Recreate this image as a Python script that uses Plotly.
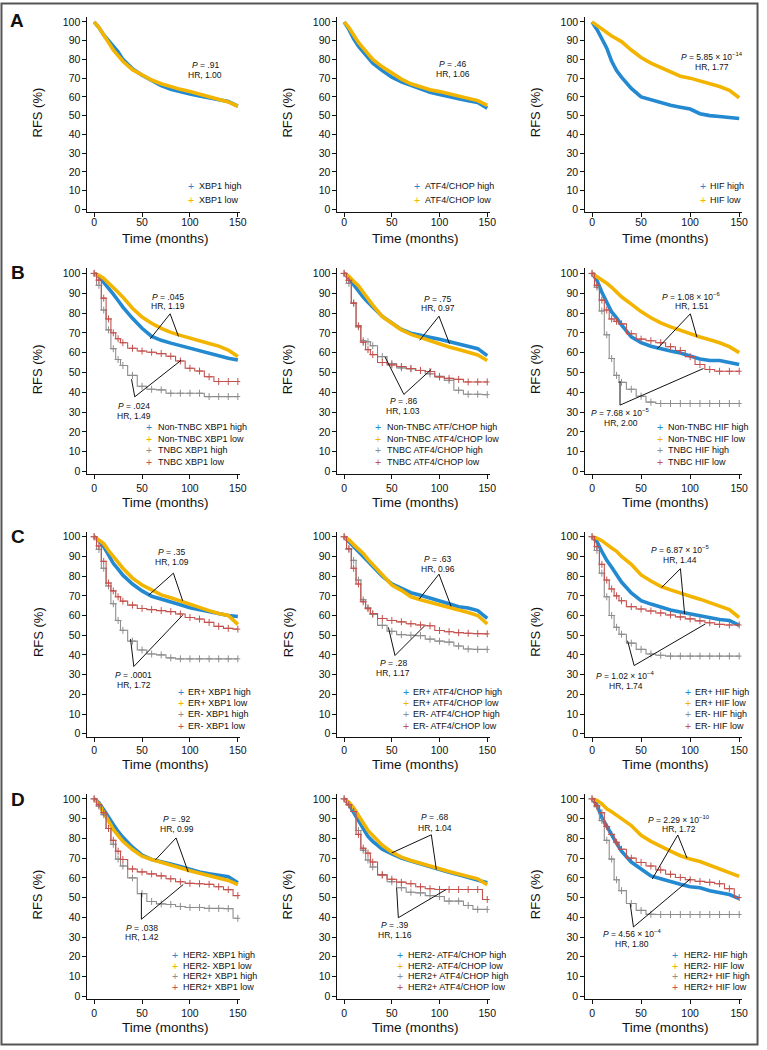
import plotly.graph_objects as go

W, H = 767, 1050

# ---------------- data (RFS %) ----------------
T = [0, 5, 10, 15, 20, 25, 30, 40, 50, 60, 70, 80, 90, 100, 110, 120, 130, 140, 150]
X_TICKS = [0, 50, 100, 150]
Y_TICKS = [0, 10, 20, 30, 40, 50, 60, 70, 80, 90, 100]

# Panel A
a1_xbp1_high = [100, 97, 93, 90, 87, 84, 80, 75, 71.5, 68.5, 66, 64, 62.5, 61.5, 60.5, 59.5, 58.5, 57.5, 55]
a1_xbp1_low = [100, 97, 93, 89, 85, 82, 79, 74.5, 71.5, 69, 67, 65.3, 64, 62.8, 61.5, 60, 58.8, 57.3, 55]
a2_atf4_high = [100, 96, 91, 87, 84, 81, 78, 74, 70.5, 68, 66, 64, 62.5, 61.3, 60, 59, 58, 57, 54]
a2_atf4_low = [100, 97, 93, 89, 86, 83, 80, 76, 72.5, 69.5, 67, 65.3, 63.8, 62.8, 61.7, 60.6, 59.5, 58, 55.5]
a3_hif_high = [100, 96, 91, 86, 79, 74, 70.5, 64.5, 60, 58.5, 57, 55.5, 54.5, 53.5, 51, 50, 49.5, 49, 48.5]
a3_hif_low = [100, 98, 96, 94, 92.5, 91, 89.5, 85, 81, 78, 75.5, 73, 71, 70, 68.5, 67, 65.5, 63.5, 59.5]

# Panel B (non-TNBC / TNBC)
b1_non_high = [100, 98.5, 95.5, 92.8, 89.5, 86.3, 83, 77.3, 72.3, 68.2, 66.2, 64.8, 63.5, 62.2, 60.8, 59.5, 58.3, 57.2, 56.3]
b1_non_low = [100, 99, 97.5, 95.3, 93, 90.5, 88, 82.4, 78, 74.8, 72.2, 70.2, 68.7, 67.2, 65.8, 64.6, 63.3, 61.3, 58]
b1_tnbc_high = [100, 94, 81.5, 71.5, 62, 56.5, 53.5, 48.5, 43, 41.5, 41.2, 39.5, 39.5, 39.5, 39.5, 37.8, 37.8, 37.8, 37.8]
b1_tnbc_low = [100, 96.6, 87.5, 77, 70, 67, 65, 62.2, 60.8, 60.2, 59.5, 58.2, 55.8, 52.1, 50.7, 47.8, 45.4, 45.4, 45.4]
b2_non_high = [100, 97.5, 94.3, 90.8, 88, 85.4, 83, 78.3, 75, 71.7, 69.8, 68.6, 67.7, 66.8, 65.5, 64.2, 63.2, 62, 58.5]
b2_non_low = [100, 98.5, 96, 93.8, 90.5, 87, 84, 78.2, 74.6, 71.5, 69.2, 67.5, 65.8, 64.2, 62.8, 61.6, 60.3, 58.8, 56]
b2_tnbc_high = [100, 95, 85, 73, 66, 65.5, 63.5, 58, 54.5, 52.3, 51.8, 51, 49.3, 48, 46, 41, 39, 39, 38.8]
b2_tnbc_low = [100, 96.5, 85, 73.5, 65.2, 61.5, 59, 55, 53.8, 53, 52, 51, 50.5, 47.7, 47, 46.5, 45.2, 45.2, 45.2]
b3_non_high = [100, 96.5, 90.5, 85, 80.5, 77.5, 74, 68, 65, 63.2, 61.8, 60.8, 59.8, 58.2, 56.8, 56, 56, 55, 54]
b3_non_low = [100, 98.3, 97, 95, 93, 90.3, 88.2, 84.5, 80.7, 77.6, 75, 73, 71.2, 69.5, 67.9, 66.5, 65, 63, 60]
b3_tnbc_high = [100, 93, 81, 69, 57, 48.5, 45, 41.5, 38, 35, 34.3, 34.3, 34.3, 34.3, 34.3, 34.3, 34.3, 34.3, 34.3]
b3_tnbc_low = [100, 94, 86.5, 81.5, 77, 75.8, 74.5, 69.5, 66.8, 66, 65, 63, 61.1, 58, 54, 51.5, 50.6, 50.6, 50.6]

# Panel C (ER+ / ER-)
c1_pos_high = [100, 98, 95, 90.5, 86.5, 83.5, 80.5, 76, 72.5, 69.8, 68.5, 67, 65.5, 64, 63, 62, 61, 60, 59.5]
c1_pos_low = [100, 98.5, 96.5, 93, 90, 87, 84, 79, 75.5, 73, 70.5, 69, 67.3, 66, 64, 62.5, 61, 60, 55.5]
c1_neg_high = [100, 93.6, 84, 75, 66, 57.5, 52.5, 47, 42.5, 40.5, 40, 38.5, 38, 38, 38, 38, 38, 38, 38]
c1_neg_low = [100, 95.3, 87.5, 76.5, 72.5, 69.5, 67.3, 65.3, 63.6, 63, 62.5, 62, 60.8, 59, 58.2, 56.5, 54.5, 53.5, 53.1]
c2_pos_high = [100, 97.5, 95.2, 92.5, 90, 87.5, 85, 80, 76, 73.6, 71.6, 70.3, 69, 67.6, 66, 64.5, 63.8, 62.5, 58.5]
c2_pos_low = [100, 98.5, 96, 94, 91.5, 88.5, 86, 80.5, 75.5, 72.8, 69.5, 68, 66.8, 65.4, 64, 62.8, 61.5, 60, 55.7]
c2_neg_high = [100, 93.5, 88, 78, 68, 64, 60.5, 55, 52, 50.3, 50, 49.8, 48, 47, 46.5, 44.5, 43, 42.8, 42.8]
c2_neg_low = [100, 94, 84, 76, 67, 63.5, 61, 58.5, 57.5, 56.8, 55.8, 55.2, 54.8, 52.4, 51.8, 51.3, 51, 50.8, 50.7]
c3_pos_high = [100, 97.5, 92.5, 88, 84.5, 80.5, 77, 71.5, 67.5, 65.8, 64.2, 62.8, 61.8, 60.8, 59.8, 58.8, 58, 57.5, 55]
c3_pos_low = [100, 99.3, 98, 96, 94.3, 92.6, 90, 86, 80.6, 77.5, 74.8, 73, 71.2, 69.8, 68.3, 66.6, 65, 63, 59]
c3_neg_high = [100, 93, 81.5, 69.5, 60, 54, 50.5, 46, 42.8, 40.5, 39.8, 39.4, 39.4, 39.4, 39.4, 39.4, 39.4, 39.4, 39.4]
c3_neg_low = [100, 95, 86, 78, 73.5, 70, 67.5, 64.5, 63.3, 62.3, 61.3, 60.3, 59.3, 58.3, 57.3, 56.3, 55.5, 55.2, 55.2]

# Panel D (HER2- / HER2+)
d1_neg_high = [100, 98, 94.5, 90.5, 87, 83.5, 80.5, 75.5, 71.5, 69.3, 68.3, 67, 65.7, 64.3, 63, 62, 61.2, 60.5, 57.5]
d1_neg_low = [100, 97.5, 93, 88.5, 84.5, 81.5, 78.5, 74.3, 71, 69.3, 67.8, 66.5, 65, 63.6, 62.3, 61, 60, 58.7, 56.5]
d1_pos_high = [100, 96.3, 92, 85, 77, 69.5, 66, 60, 52, 48, 46.8, 46.5, 45.5, 45, 45, 44.5, 44.5, 44.4, 39.5]
d1_pos_low = [100, 97, 93, 85, 79, 73.5, 69.3, 64.5, 63, 62, 61, 59.5, 58, 57.2, 57, 56.7, 55.5, 54, 51]
d2_neg_high = [100, 97.3, 93, 89, 84.5, 81, 78.5, 74.5, 72.2, 70, 68.5, 67, 65.5, 64.2, 62.8, 61.5, 60.2, 59, 57.5]
d2_neg_low = [100, 98.3, 95.5, 91.5, 87.5, 84, 81.5, 76.5, 73, 70.5, 68.8, 67.3, 65.8, 64.5, 63.2, 62, 60.7, 59.5, 56.5]
d2_pos_high = [100, 97, 93.6, 84, 74, 69, 65.5, 61.5, 58, 55, 52.7, 52.4, 51, 50.5, 48.2, 48.2, 46, 44, 44]
d2_pos_low = [100, 97, 93.6, 82, 75, 72.5, 68, 61.5, 59.3, 57.8, 57, 55.5, 54.5, 54.1, 54.1, 54.1, 54.1, 54.1, 49]
d3_neg_high = [100, 97, 90.5, 86, 81.5, 77.5, 73.5, 68, 64.5, 61, 59.5, 58, 56.7, 55.5, 55, 53.5, 52.3, 51.5, 49.5]
d3_neg_low = [100, 99.3, 97.5, 95, 93.5, 92, 90, 86.5, 81.5, 78.5, 75.8, 73.5, 71.2, 69.5, 68.3, 66.5, 64.5, 62.5, 60.7]
d3_pos_high = [100, 96, 89, 79, 69.5, 59, 53.5, 47, 43.5, 41.5, 41.4, 41.4, 41.4, 41.4, 41.4, 41.4, 41.4, 41.4, 41.4]
d3_pos_low = [100, 96.5, 93, 86, 82, 78, 74.5, 70, 67.8, 66, 64, 61.8, 60.2, 59, 58.2, 57.7, 57, 54.5, 50]

# ---------------- styles / layout geometry ----------------
BLUE = "#2389d0"
YELLOW = "#f3b400"
GRAY = "#8e8e8e"
RED = "#c4524e"
FONT = "Liberation Sans, Arial, Helvetica, sans-serif"

COLS = [(95.0, 0.967), (347.3, 0.963), (597.5, 0.99)]      # px of month 0, px per month
ROWS = [(20.0, 1.883), (272.7, 1.99), (537.3, 1.979), (800.7, 1.983)]  # px of 100 %, px per %
ROW_TICK_SHIFT = [-4, 0, 0, 0]
ROW_XTITLE_OFF = [29.5, 31, 31, 31]
XR = [-7.0, 152.5]
YR = [-1.5, 102.5]
LEG_Y = [[185.0, 199.3], [427.5, 439.0, 450.5, 462.0], [693.0, 704.3, 715.6, 727.0], [957.7, 968.3, 979.0, 990.0]]
LETTERS = [("A", 17.5, 19.0), ("B", 18.3, 271.7), ("C", 18.3, 537.5), ("D", 18.3, 801.0)]


def PX(x):
    return x / W


def PY(y):
    return 1 - y / H


def st(p, hr, tx, py, hy, apex=None, ends=None):
    return dict(p=p, hr=hr, tx=tx, py=py, hy=hy, apex=apex, ends=ends)


panels = [
    dict(r=0, c=0, leg=(192.7, 200.0),
         series=[(a1_xbp1_high, "XBP1 high", BLUE, True), (a1_xbp1_low, "XBP1 low", YELLOW, True)],
         stats=[st(".91", "1.00", 116, 76.8, 71.5)]),
    dict(r=0, c=1, leg=(420.7, 428.3),
         series=[(a2_atf4_high, "ATF4/CHOP high", BLUE, True), (a2_atf4_low, "ATF4/CHOP low", YELLOW, True)],
         stats=[st(".46", "1.06", 114, 77.3, 72)]),
    dict(r=0, c=2, leg=(709.0, 715.7),
         series=[(a3_hif_high, "HIF high", BLUE, True), (a3_hif_low, "HIF low", YELLOW, True)],
         stats=[st("5.85 × 10<sup>−14</sup>", "1.77", 122, 81.5, 76.2)]),
    dict(r=1, c=0, leg=(150.7, 158.3),
         series=[(b1_non_high, "Non-TNBC XBP1 high", BLUE, True), (b1_non_low, "Non-TNBC XBP1 low", YELLOW, True),
                 (b1_tnbc_high, "TNBC XBP1 high", GRAY, False), (b1_tnbc_low, "TNBC XBP1 low", RED, False)],
         stats=[st(".045", "1.19", 77.6, 88, 83.3, (79.3, 79.6), [(58.6, 67), (88, 68.2)]),
                st(".024", "1.49", 41.4, 33, 28.1, (42.4, 37.7), [(39, 46.6), (90.7, 56.1)])]),
    dict(r=1, c=1, leg=(381.7, 389.3),
         series=[(b2_non_high, "Non-TNBC ATF/CHOP high", BLUE, True), (b2_non_low, "Non-TNBC ATF4/CHOP low", YELLOW, True),
                 (b2_tnbc_high, "TNBC ATF4/CHOP high", GRAY, False), (b2_tnbc_low, "TNBC ATF4/CHOP low", RED, False)],
         stats=[st(".75", "0.97", 98.3, 87.1, 82.4, (99.4, 78.4), [(79.2, 66.2), (110.4, 64.5)]),
                st(".86", "1.03", 62, 35.5, 30.5, (62.6, 38.9), [(42.9, 57.8), (91.4, 51.6)])]),
    dict(r=1, c=2, leg=(666.0, 672.7),
         series=[(b3_non_high, "Non-TNBC HIF high", BLUE, True), (b3_non_low, "Non-TNBC HIF low", YELLOW, True),
                 (b3_tnbc_high, "TNBC HIF high", GRAY, False), (b3_tnbc_low, "TNBC HIF low", RED, False)],
         stats=[st("1.08 × 10<sup>−6</sup>", "1.51", 101.8, 88.4, 83.3, (100.2, 79.6), [(66.5, 62), (106.9, 67.8)]),
                st("7.68 × 10<sup>−5</sup>", "2.00", 29.5, 29.6, 24.3, (28.5, 33.5), [(28.5, 45.6), (113.6, 52)])]),
    dict(r=2, c=0, leg=(182.7, 189.0),
         series=[(c1_pos_high, "ER+ XBP1 high", BLUE, True), (c1_pos_low, "ER+ XBP1 low", YELLOW, True),
                 (c1_neg_high, "ER- XBP1 high", GRAY, False), (c1_neg_low, "ER- XBP1 low", RED, False)],
         stats=[st(".35", "1.09", 81, 92.4, 87.4, (82.7, 81.5), [(56.9, 70.3), (92.4, 67.5)]),
                st(".0001", "1.72", 41.4, 29.9, 24.9, (41.4, 34.1), [(38, 48.1), (92.4, 60.2)])]),
    dict(r=2, c=1, leg=(409.3, 416.0),
         series=[(c2_pos_high, "ER+ ATF4/CHOP high", BLUE, True), (c2_pos_low, "ER+ ATF4/CHOP low", YELLOW, True),
                 (c2_neg_high, "ER- ATF4/CHOP high", GRAY, False), (c2_neg_low, "ER- ATF4/CHOP low", RED, False)],
         stats=[st(".63", "0.96", 98.3, 88.5, 83.5, (99.4, 81), [(78.6, 68.3), (112.1, 64.6)]),
                st(".28", "1.17", 51.6, 35.8, 30.9, (53.3, 39.7), [(46.4, 54), (84.4, 54.8)])]),
    dict(r=2, c=2, leg=(694.3, 700.0),
         series=[(c3_pos_high, "ER+ HIF high", BLUE, True), (c3_pos_low, "ER+ HIF low", YELLOW, True),
                 (c3_neg_high, "ER- HIF high", GRAY, False), (c3_neg_low, "ER- HIF low", RED, False)],
         stats=[st("6.87 × 10<sup>−5</sup>", "1.44", 90.1, 93.6, 88, (90.1, 83.8), [(70.9, 74.2), (94.4, 60.7)]),
                st("1.02 × 10<sup>−4</sup>", "1.74", 34.5, 29.6, 24, (42.9, 34.6), [(36.2, 47.2), (115.4, 55.7)])]),
    dict(r=3, c=0, leg=(176.7, 183.3),
         series=[(d1_neg_high, "HER2- XBP1 high", BLUE, True), (d1_neg_low, "HER2- XBP1 low", YELLOW, True),
                 (d1_pos_high, "HER2+ XBP1 high", GRAY, False), (d1_pos_low, "HER2+ XBP1 low", RED, False)],
         stats=[st(".92", "0.99", 86.2, 90, 84.7, (85.5, 80.2), [(63.8, 69), (98.2, 62.9)]),
                st(".038", "1.42", 50, 34.8, 30.1, (49.3, 39), [(49.3, 52.4), (93, 56.6)])]),
    dict(r=3, c=1, leg=(404.0, 410.7),
         series=[(d2_neg_high, "HER2- ATF4/CHOP high", BLUE, True), (d2_neg_low, "HER2- ATF4/CHOP low", YELLOW, True),
                 (d2_pos_high, "HER2+ ATF4/CHOP high", GRAY, False), (d2_pos_low, "HER2+ ATF4/CHOP low", RED, False)],
         stats=[st(".68", "1.04", 94.8, 90.6, 85.5, (91.4, 81.8), [(49.8, 72.6), (96.6, 64.2)]),
                st(".39", "1.16", 53.3, 36, 31.1, (56.8, 39.8), [(55, 55), (107, 54.1)])]),
    dict(r=3, c=2, leg=(681.7, 689.0),
         series=[(d3_neg_high, "HER2- HIF high", BLUE, True), (d3_neg_low, "HER2- HIF low", YELLOW, True),
                 (d3_pos_high, "HER2+ HIF high", GRAY, False), (d3_pos_low, "HER2+ HIF low", RED, False)],
         stats=[st("2.29 × 10<sup>−10</sup>", "1.72", 88.4, 89.8, 84.6, (87.4, 81.7), [(61.4, 59.4), (96.8, 70)]),
                st("4.56 × 10<sup>−4</sup>", "1.80", 41.2, 31.7, 26.3, (42.2, 35.1), [(38.9, 46.8), (100.2, 59.4)])]),
]

fig = go.Figure()
layout = {}
annotations = []
shapes = []

for k, pn in enumerate(panels):
    sfx = "" if k == 0 else str(k + 1)
    xa, ya = "x" + sfx, "y" + sfx
    r, c = pn["r"], pn["c"]
    x0, sx = COLS[c]
    y100, sy = ROWS[r]
    xdom = [PX(x0 + XR[0] * sx), PX(x0 + XR[1] * sx)]
    ydom = [PY(y100 + (100 - YR[0]) * sy), PY(y100 + (100 - YR[1]) * sy)]
    axis_common = dict(showline=True, linecolor="#111", linewidth=1, ticks="outside", ticklen=4,
                       tickwidth=1, tickcolor="#111", showgrid=False, zeroline=False,
                       tickfont=dict(family=FONT, size=10.5, color="#111"), fixedrange=True)
    layout["xaxis" + sfx] = dict(domain=xdom, range=XR, anchor=ya, tickvals=X_TICKS,
                                 ticklabelstandoff=ROW_TICK_SHIFT[r], **axis_common)
    layout["yaxis" + sfx] = dict(domain=ydom, range=YR, anchor=xa, tickvals=Y_TICKS, **axis_common)

    for vals, name, color, big in pn["series"]:
        if big:
            fig.add_trace(go.Scatter(x=T, y=vals, xaxis=xa, yaxis=ya, mode="lines", name=name,
                                     line=dict(color=color, width=3.6), showlegend=False, hoverinfo="skip"))
        else:
            fig.add_trace(go.Scatter(x=T, y=vals, xaxis=xa, yaxis=ya, mode="lines+markers", name=name,
                                     line=dict(color=color, width=1.1, shape="hvh"),
                                     marker=dict(symbol="cross-thin", size=5, line=dict(width=1, color=color)),
                                     showlegend=False, hoverinfo="skip"))

    # axis titles
    annotations.append(dict(text="RFS (%)", textangle=-90, xref="paper", yref="paper",
                            x=PX(x0 + XR[0] * sx - 50), y=PY(y100 + 50 * sy - 3), showarrow=False,
                            xanchor="center", yanchor="middle", font=dict(family=FONT, size=13, color="#111")))
    annotations.append(dict(text="Time (months)", xref="paper", yref="paper",
                            x=PX(x0 + 75 * sx), y=PY(y100 + 100 * sy + ROW_XTITLE_OFF[r]), showarrow=False,
                            xanchor="center", yanchor="middle", font=dict(family=FONT, size=13.5, color="#111")))

    # legend (as text)
    plus_x, text_x = pn["leg"]
    for (vals, name, color, big), ly in zip(pn["series"], LEG_Y[r]):
        annotations.append(dict(text="+", xref="paper", yref="paper", x=PX(plus_x), y=PY(ly),
                                showarrow=False, xanchor="center", yanchor="middle", borderpad=0,
                                font=dict(family=FONT, size=10.5, color=color)))
        annotations.append(dict(text=name, xref="paper", yref="paper", x=PX(text_x), y=PY(ly),
                                showarrow=False, xanchor="left", yanchor="middle", borderpad=0,
                                font=dict(family=FONT, size=9, color="#111")))

    # statistics + connectors
    for s in pn["stats"]:
        annotations.append(dict(text="<i>P</i> = " + s["p"], xref=xa, yref=ya, x=s["tx"], y=s["py"],
                                showarrow=False, xanchor="center", yanchor="middle",
                                font=dict(family=FONT, size=8.5, color="#111")))
        annotations.append(dict(text="HR, " + s["hr"], xref=xa, yref=ya, x=s["tx"], y=s["hy"],
                                showarrow=False, xanchor="center", yanchor="middle",
                                font=dict(family=FONT, size=8.5, color="#111")))
        if s["apex"] is not None:
            ax_, ay_ = s["apex"]
            for ex, ey in s["ends"]:
                shapes.append(dict(type="line", xref=xa, yref=ya, x0=ax_, y0=ay_, x1=ex, y1=ey,
                                   line=dict(color="#111", width=1)))

for letter, lx, ly in LETTERS:
    annotations.append(dict(text="<b>" + letter + "</b>", xref="paper", yref="paper", x=PX(lx), y=PY(ly),
                            showarrow=False, xanchor="center", yanchor="middle",
                            font=dict(family=FONT, size=19, color="#111")))

shapes.append(dict(type="rect", xref="paper", yref="paper", x0=PX(1.5), y0=PY(1.5), x1=PX(764.5), y1=PY(1047.5),
                   line=dict(color="#555", width=2), fillcolor="rgba(0,0,0,0)"))

fig.update_layout(width=W, height=H, autosize=False, margin=dict(l=0, r=0, t=0, b=0),
                  paper_bgcolor="white", plot_bgcolor="white", showlegend=False,
                  annotations=annotations, shapes=shapes, **layout)

fig.write_html("out.html", config={"displayModeBar": False, "staticPlot": True},
               post_script="document.body.style.margin='0';document.body.style.padding='0';")
